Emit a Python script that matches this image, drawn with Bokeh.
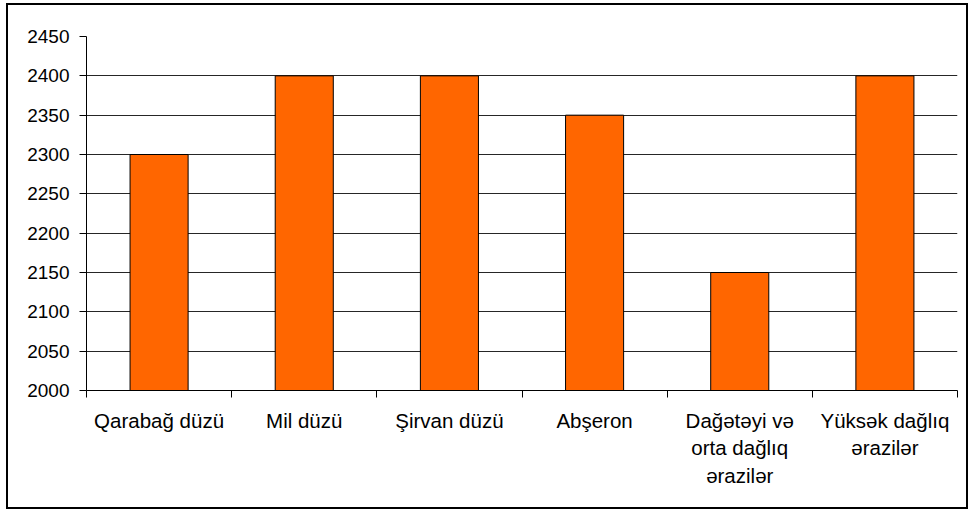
import numpy as np
from bokeh.plotting import figure
from bokeh.models import FixedTicker, Range1d
from bokeh.embed import file_html
from bokeh.resources import INLINE

categories = ["Qarabağ düzü", "Mil düzü", "Şirvan düzü", "Abşeron",
              "Dağətəyi və\norta dağlıq\nərazilər", "Yüksək dağlıq\nərazilər"]
values = [2300, 2400, 2400, 2350, 2150, 2400]
y_ticks = [2000, 2050, 2100, 2150, 2200, 2250, 2300, 2350, 2400, 2450]

n = len(categories)
xc = np.arange(n) + 0.5

p = figure(width=958, height=502, output_backend="svg", toolbar_location=None,
           x_range=Range1d(0, n), y_range=Range1d(2000, 2450),
           min_border_left=78, min_border_right=13, min_border_top=31, min_border_bottom=121)
p.styles = {"border": "2px solid black", "box-sizing": "content-box",
            "margin-left": "6px", "margin-top": "3px"}
p.outline_line_color = None
p.background_fill_color = "white"
p.border_fill_color = "white"

p.vbar(x=xc, top=values, bottom=2000, width=0.4, fill_color="#FF6600",
       line_color="black", line_width=1)

font = "Liberation Sans"
p.yaxis.ticker = FixedTicker(ticks=y_ticks)
p.yaxis.major_label_text_font = font
p.yaxis.major_label_text_font_size = "19px"
p.yaxis.major_label_text_color = "black"
p.yaxis.major_tick_out = 7
p.yaxis.major_tick_in = 0
p.yaxis.minor_tick_line_color = None
p.yaxis.axis_line_color = "black"
p.yaxis.major_tick_line_color = "black"
p.yaxis.major_label_standoff = 10

p.xaxis.ticker = FixedTicker(ticks=list(xc), minor_ticks=list(range(n + 1)))
p.xaxis.major_label_overrides = {float(x): c for x, c in zip(xc, categories)}
p.xaxis.major_tick_out = 0
p.xaxis.major_tick_in = 0
p.xaxis.minor_tick_out = 7
p.xaxis.minor_tick_in = 0
p.xaxis.minor_tick_line_color = "black"
p.xaxis.axis_line_color = "black"
p.xaxis.major_label_text_font = font
p.xaxis.major_label_text_font_size = "20.5px"
p.xaxis.major_label_text_color = "black"
p.xaxis.major_label_standoff = 11

p.xgrid.grid_line_color = None
p.ygrid.ticker = FixedTicker(ticks=y_ticks)
p.ygrid.grid_line_color = "black"
p.ygrid.grid_line_alpha = 0.85

open("out.html", "w").write(file_html(p, INLINE))
